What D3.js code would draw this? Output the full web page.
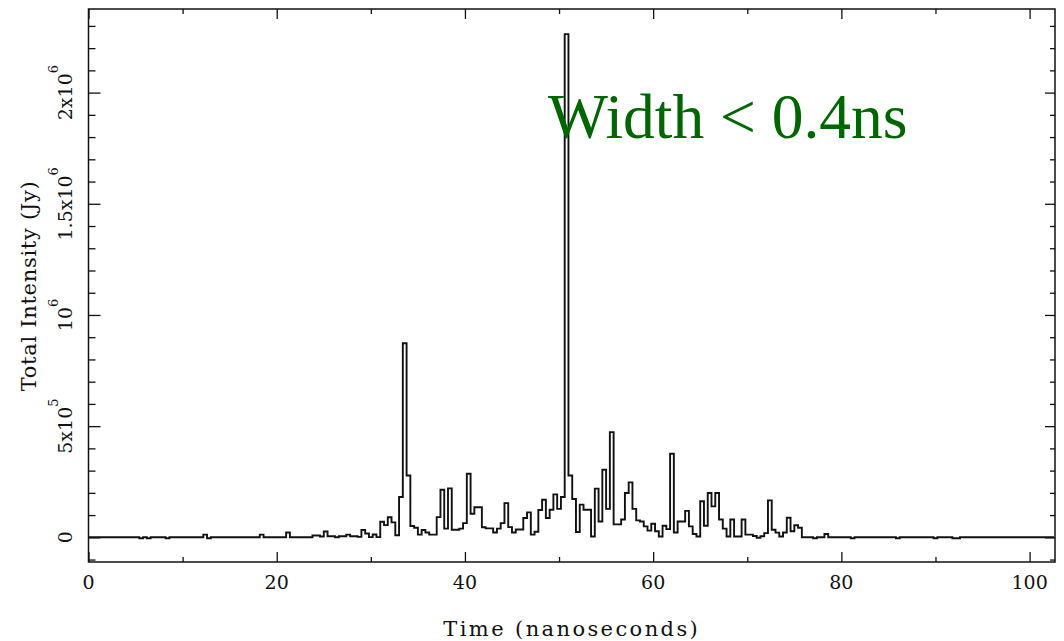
<!DOCTYPE html>
<html><head><meta charset="utf-8">
<script src="https://cdn.jsdelivr.net/npm/d3@7"></script>
<style>body{margin:0;background:#fff} svg{display:block}</style>
</head><body>
<svg id="chart" width="1064" height="641"></svg>
<script>
// Bin edges (ns) and total intensity (Jy) per bin
const binEdges = [0,5.4,5.8,6.2,6.6,8.2,8.6,12.2,12.6,13.0,18.2,18.6,21.0,21.4,23.8,24.6,25.0,25.4,26.2,26.6,27.4,27.8,28.6,29.0,29.4,29.8,30.2,30.6,31.0,31.4,31.8,32.2,32.6,33.0,33.4,33.8,34.2,34.6,35.0,35.4,35.8,36.2,37.0,37.4,37.8,38.2,38.6,39.4,39.8,40.2,40.6,41.0,41.8,42.2,43.0,43.4,43.8,44.2,44.6,45.0,45.4,46.2,46.6,47.0,47.4,47.8,48.2,48.6,49.0,49.4,49.8,50.2,50.6,51.0,51.4,51.8,52.2,52.6,53.4,53.8,54.2,54.6,55.0,55.4,55.8,56.6,57.0,57.4,57.8,58.2,58.6,59.0,59.4,59.8,60.2,60.6,61.0,61.4,61.8,62.2,62.6,63.4,63.8,64.2,64.6,65.0,65.4,65.8,66.2,66.6,67.0,67.4,67.8,68.2,68.6,69.4,69.8,70.6,71.0,71.4,71.8,72.2,72.6,73.0,73.4,73.8,74.2,74.6,75.0,75.4,75.8,77.0,77.4,78.2,78.6,81.0,81.4,85.8,86.2,89.8,90.2,91.8,92.6,102.6];
const intensityJy = [0,-4000,0,-4000,0,-4000,0,12000,-4000,0,12000,0,22000,0,8000,4000,26000,4500,0,4500,12000,4500,2000,33000,17000,1000,13000,1000,70000,55000,90000,67000,9000,181000,873000,278000,51000,43000,12000,33000,22000,12000,91000,214000,39000,220000,34000,39000,64000,286000,106000,135000,45000,40000,22000,39000,64000,154000,46000,22000,35000,87000,112000,12000,25000,123000,169000,87000,124000,193000,128000,181000,2263000,278000,172000,24000,147000,124000,4000,219000,71000,304000,128000,473000,58000,80000,199000,247000,128000,76000,71000,49000,30000,61000,27000,4000,52000,37000,376000,22000,71000,119000,49000,15000,4000,162000,52000,199000,139000,199000,80000,39000,4000,80000,4000,80000,12000,6000,-2000,5000,19000,166000,34000,21000,4000,22000,88000,27000,54000,43000,0,-4000,0,15000,0,-4000,0,-4000,0,-4000,0,-4000,0];

const xMajorTicks = [0,20,40,60,80,100];
const xMinorTicks = [10,30,50,70,90];
const xTickLabels = ["0","20","40","60","80","100"];
const yMajorTicks = [0,500000,1000000,1500000,2000000];
const yMinorTicks = [-100000,100000,200000,300000,400000,600000,700000,800000,900000,1100000,1200000,1300000,1400000,1600000,1700000,1800000,1900000,2100000,2200000,2300000];
const yTickMantissa = ["0","5x10","10","1.5x10","2x10"];
const yTickExponent = ["","5","6","6","6"];
const xTitle = "Time (nanoseconds)";
const yTitle = "Total Intensity (Jy)";
const annotation = "Width < 0.4ns";

const svg = d3.select("#chart");
const L = 88.5, R = 1055, T = 9, B = 562;
const x = d3.scaleLinear().domain([0, 102.7]).range([L, R]);
const y = d3.scaleLinear().domain([-111000, 2376000]).range([B, T]);
const font = "'DejaVu Serif', serif";

// step line
const pts = intensityJy.map((v, i) => [binEdges[i], v]);
pts.push([binEdges[binEdges.length - 1], intensityJy[intensityJy.length - 1]]);
const line = d3.line().x(d => x(d[0])).y(d => y(d[1])).curve(d3.curveStepAfter);
svg.append("path").datum(pts).attr("d", line)
  .attr("fill", "none").attr("stroke", "#111").attr("stroke-width", 1.9)
  .attr("stroke-linejoin", "miter");

// ticks on all four sides (inward)
function ticks(axis, transform, vals, size) {
  const g = svg.append("g").attr("transform", transform)
    .call(axis.tickValues(vals).tickSize(-size).tickFormat(""));
  g.select(".domain").remove();
  g.selectAll("line").attr("stroke", "#111").attr("stroke-width", 1.3);
}
ticks(d3.axisBottom(x), `translate(0,${B})`, xMajorTicks, 10);
ticks(d3.axisBottom(x), `translate(0,${B})`, xMinorTicks, 5);
ticks(d3.axisTop(x), `translate(0,${T})`, xMajorTicks, 10);
ticks(d3.axisTop(x), `translate(0,${T})`, xMinorTicks, 5);
ticks(d3.axisLeft(y), `translate(${L},0)`, yMajorTicks, 12);
ticks(d3.axisLeft(y), `translate(${L},0)`, yMinorTicks, 7);
ticks(d3.axisRight(y), `translate(${R},0)`, yMajorTicks, 10);
ticks(d3.axisRight(y), `translate(${R},0)`, yMinorTicks, 5);

// frame
svg.append("rect").attr("x", L).attr("y", T).attr("width", R - L).attr("height", B - T)
  .attr("fill", "none").attr("stroke", "#111").attr("stroke-width", 1.5);

// x tick labels
svg.append("g").selectAll("text").data(xMajorTicks).join("text")
  .attr("x", d => x(d)).attr("y", 589)
  .attr("text-anchor", "middle").attr("font-family", font).attr("font-size", 19)
  .attr("fill", "#111").text((d, i) => xTickLabels[i]);

// y tick labels (rotated, with exponents)
const yl = svg.append("g").selectAll("text").data(yMajorTicks).join("text")
  .attr("transform", d => `translate(72,${y(d)}) rotate(-90)`)
  .attr("text-anchor", "middle").attr("font-family", font).attr("font-size", 19)
  .attr("fill", "#111");
yl.append("tspan").text((d, i) => yTickMantissa[i]);
yl.append("tspan").attr("dy", -14).attr("font-size", 13).text((d, i) => yTickExponent[i]);

// axis titles
svg.append("text").attr("x", (L + R) / 2).attr("y", 636).attr("text-anchor", "middle")
  .attr("font-family", font).attr("font-size", 21).attr("letter-spacing", 2.4)
  .attr("fill", "#111").text(xTitle);
svg.append("text").attr("transform", `translate(36,286) rotate(-90)`)
  .attr("text-anchor", "middle").attr("font-family", font).attr("font-size", 21)
  .attr("letter-spacing", 0.7).attr("fill", "#111").text(yTitle);

// annotation
svg.append("text").attr("x", 548).attr("y", 138)
  .attr("font-family", "'Liberation Serif', 'Times New Roman', serif").attr("font-size", 63.5)
  .attr("fill", "#006600").text(annotation);
</script>
</body></html>
